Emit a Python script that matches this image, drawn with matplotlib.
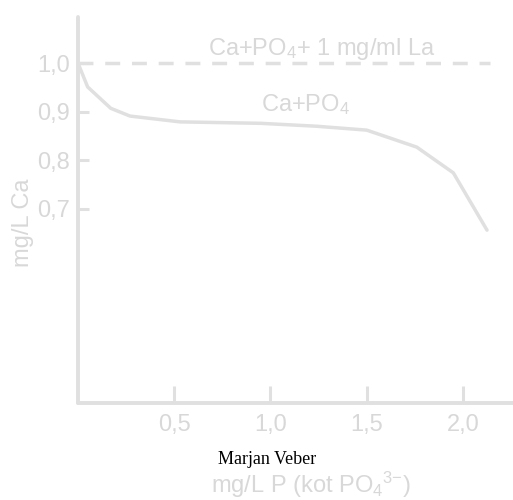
import matplotlib
matplotlib.use('Agg')
import matplotlib.pyplot as plt

# data
p_conc = [0.0, 0.05, 0.17, 0.27, 0.53, 0.95, 1.24, 1.50, 1.76, 1.95, 2.125]
ca_po4 = [1.0, 0.951, 0.907, 0.891, 0.879, 0.876, 0.870, 0.862, 0.827, 0.774, 0.656]
la_x = [0.0, 2.14]
la_y = [1.0, 1.0]
xticks = [0.5, 1.0, 1.5, 2.0]
xticklabels = ['0,5', '1,0', '1,5', '2,0']
yticks = [0.7, 0.8, 0.9, 1.0]
yticklabels = ['0,7', '0,8', '0,9', '1,0']

gray = '#e0e0e0'
tgray = '#d8d8d8'

plt.rcParams['font.family'] = ['Liberation Sans', 'DejaVu Sans']
plt.rcParams['mathtext.fontset'] = 'custom'
plt.rcParams['mathtext.rm'] = 'Liberation Sans'
plt.rcParams['mathtext.it'] = 'Liberation Sans'

fig = plt.figure(figsize=(5.13, 5.0), dpi=100)
ax = fig.add_axes([78/513, 97/500, 435/513, 386/500])

ax.plot(p_conc, ca_po4, color=gray, lw=2.5, solid_capstyle='round')
ax.plot(la_x, la_y, color=gray, lw=2.5, dashes=(4.3, 3.4))

ax.set_xlim(0, 2.26)
ax.set_ylim(0.3, 1.095)

for s in ['top', 'right']:
    ax.spines[s].set_visible(False)
for s in ['left', 'bottom']:
    ax.spines[s].set_color(gray)
    ax.spines[s].set_linewidth(2.8)
    ax.spines[s].set_capstyle('round')

ax.set_xticks(xticks)
ax.set_xticklabels(xticklabels)
ax.set_yticks(yticks)
ax.set_yticklabels(yticklabels)
ax.tick_params(axis='x', direction='in', length=12, width=2.2, color=gray,
               labelcolor=tgray, labelsize=17, pad=8)
ax.tick_params(axis='y', direction='in', length=8, width=2.2, color=gray,
               labelcolor=tgray, labelsize=17, pad=6)

ax.text(322/513, 1 - 49/500, 'Ca+PO$_4$+ 1 mg/ml La', transform=fig.transFigure,
        ha='center', va='center', color=tgray, fontsize=17)
ax.text(306/513, 1 - 105/500, 'Ca+PO$_4$', transform=fig.transFigure,
        ha='center', va='center', color=tgray, fontsize=17)

fig.text(23/513, 1 - 223/500, 'mg/L Ca', rotation=90, ha='center', va='center',
         color=tgray, fontsize=17)
fig.text(311/513, 1 - 485/500, 'mg/L P (kot PO$_4$$^{3{-}}$)', ha='center', va='center',
         color=tgray, fontsize=17)
fig.text(267/513, 1 - 460/500, 'Marjan Veber', ha='center', va='center',
         color='black', fontsize=13, family='Liberation Serif')

plt.savefig('out.png', dpi=100)
